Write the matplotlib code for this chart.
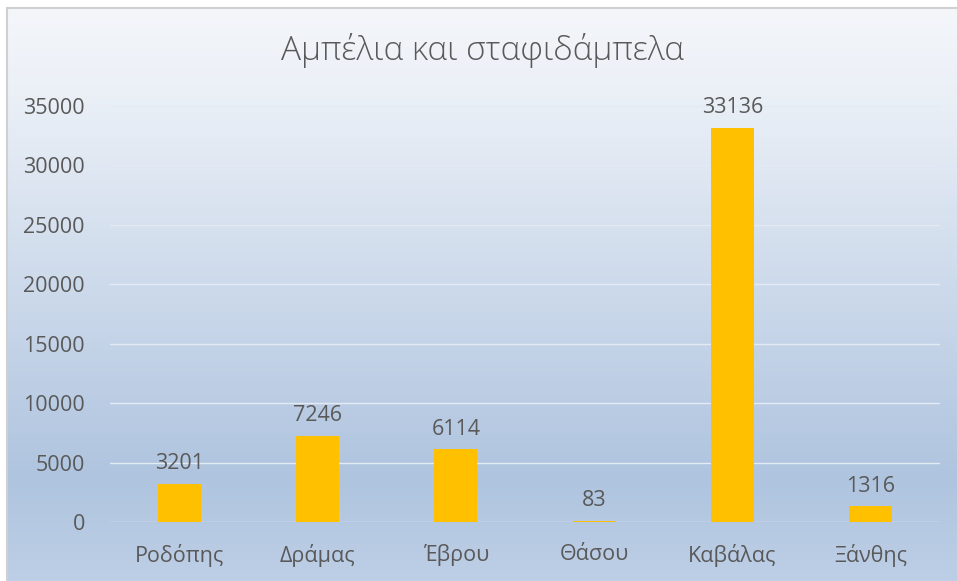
import matplotlib.pyplot as plt
import numpy as np
from matplotlib.colors import LinearSegmentedColormap

categories = ["Ροδόπης", "Δράμας", "Έβρου", "Θάσου", "Καβάλας", "Ξάνθης"]
values = [3201, 7246, 6114, 83, 33136, 1316]
yticks = [0, 5000, 10000, 15000, 20000, 25000, 30000, 35000]

plt.rcParams['font.family'] = ['Open Sans', 'DejaVu Sans']
textColor = "#595959"

fig = plt.figure(figsize=(9.57, 5.81), dpi=100)
W, H = 957, 581

# background: chart panel with a vertical gradient and a thin grey frame
bg = fig.add_axes([7 / W, 0, 1 - 7 / W, 1 - 8 / H])
bg.set_zorder(-2)
cmap = LinearSegmentedColormap.from_list(
    "bg", [(0.0, "#F4F6FA"), (0.15, "#EBF0F7"), (0.82, "#AFC4DF"), (1.0, "#BDCFE6")])
grad = np.linspace(0, 1, 256).reshape(-1, 1)
bg.imshow(grad, aspect="auto", cmap=cmap, extent=[0, 1, 0, 1], origin="upper")
bg.set_xlim(0, 1)
bg.set_ylim(0, 1)
for s in ["right", "bottom"]:
    bg.spines[s].set_visible(False)
for s in ["left", "top"]:
    bg.spines[s].set_color("#D0D0D0")
    bg.spines[s].set_linewidth(1.5)
bg.set_xticks([])
bg.set_yticks([])

# plot area
left, right = 110 / W, 940 / W
top, bottom = 106 / H, 522 / H
ax = fig.add_axes([left, 1 - bottom, right - left, bottom - top])
ax.patch.set_alpha(0)

x = np.arange(len(categories))
ax.bar(x, values, width=0.31, color="#FFC000", zorder=3)
ax.set_xlim(-0.5, len(categories) - 0.5)
ax.set_ylim(0, 35000)
ax.set_yticks(yticks)
ax.set_yticklabels([str(v) for v in yticks])
ax.set_xticks(x)
ax.set_xticklabels(categories)
ax.tick_params(axis="both", length=0, labelsize=15.5, colors=textColor)
ax.tick_params(axis="y", pad=18)
ax.tick_params(axis="x", pad=16)
ax.grid(axis="y", color="#E4EAF3", linewidth=1, zorder=1)
for s in ax.spines.values():
    s.set_visible(False)

for xi, v in zip(x, values):
    ax.annotate(str(v), (xi, v), xytext=(0, 7), textcoords="offset points",
                ha="center", va="bottom", fontsize=15.5, color=textColor, zorder=4)

fig.text(483 / W, 1 - 50 / H, "Αμπέλια και σταφιδάμπελα", ha="center", va="center",
         fontsize=24, color=textColor, fontweight="light")

fig.savefig("out.png", dpi=100, facecolor="white")
